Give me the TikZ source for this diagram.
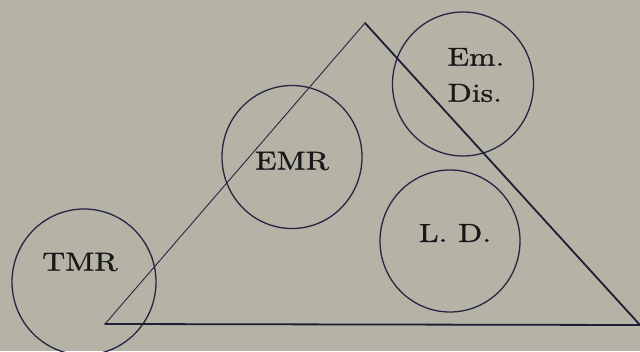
\documentclass[tikz,border=0pt]{standalone}
\usepackage{fontspec}
\usetikzlibrary{shapes.geometric}
\newfontfamily\lblfont[FakeStretch=1.22,FakeBold=1.2]{lmroman10-regular.otf}
\definecolor{bg}{RGB}{181,179,166}
\definecolor{ink}{RGB}{38,38,66}
\definecolor{txt}{RGB}{24,24,26}
\tikzset{
  ring/.style={ellipse, draw=ink, line width=1.3pt, inner sep=0pt},
  lbl/.style={text=txt, inner sep=0pt, font=\lblfont\fontsize{26}{36}\selectfont},
  thinside/.style={draw=ink, line width=0.9pt},
  thickside/.style={draw=ink!80!black, line width=1.8pt, line cap=round}
}
\begin{document}
\begin{tikzpicture}[x=1pt,y=1pt]
\fill[bg] (0,0) rectangle (640,351);
\useasboundingbox (0,0) rectangle (640,351);
% triangle corners
\coordinate (apex) at (365,328);
\coordinate (bl) at (105,27);
\coordinate (br) at (640,26);
% circles
\node[ring, minimum width=144pt, minimum height=146pt] (tmr) at (84,69) {};
\node[ring, minimum width=140pt, minimum height=143pt] (emr) at (292,194) {};
\node[ring, minimum width=141pt, minimum height=144pt] (emdis) at (463,267) {};
\node[ring, minimum width=140pt, minimum height=142pt] (ld) at (450,110) {};
% triangle
\draw[thinside] (bl) -- (apex);
\draw[thickside] (apex) -- (br);
\draw[thickside] (bl) -- (br);
% labels
\node[lbl] (tmrt) at (80,89) {TMR};
\node[lbl] (emrt) at (292,190) {EMR};
\node[lbl, align=left] (emdist) at (476,276) {Em.\\Dis.};
\node[lbl] (ldt) at (455,118) {L.\ D.};
\end{tikzpicture}
\end{document}
